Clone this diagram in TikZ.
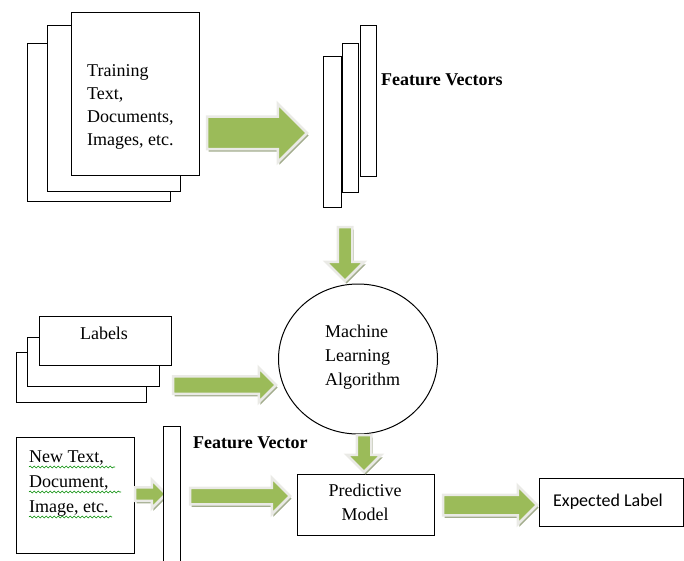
\documentclass[tikz,border=0pt]{standalone}
\usepackage{fontspec}
\setmainfont{Liberation Serif}
\newfontfamily\calibri{Carlito}
\usetikzlibrary{shapes.arrows, shapes.geometric, shadows, decorations.pathmorphing, positioning}
\definecolor{arrowgreen}{HTML}{9BBB59}
\definecolor{arrowrim}{HTML}{EAEAE6}
\definecolor{arrowshade}{HTML}{A3AD8E}
\tikzset{page/.style={draw,line width=1.1pt,fill=white,anchor=north west,inner sep=0pt},
         garrow/.style={single arrow,anchor=tail,fill=arrowgreen,draw=arrowrim,line width=2.5pt,inner xsep=0pt,outer sep=0pt,
                        drop shadow={shadow xshift=1.5pt,shadow yshift=-2.5pt,fill=arrowshade,opacity=1}},
         txt/.style={font=\fontsize{18}{23}\selectfont,align=left,inner sep=0pt},
         squiggle/.style={draw=green!55!black,line width=0.6pt,decorate,decoration={snake,amplitude=1pt,segment length=4pt}}}

\begin{document}
\begin{tikzpicture}[x=1pt,y=-1pt]
        \useasboundingbox (0,0) rectangle (684,561);

        % training documents
        \node[page,minimum width=143pt,minimum height=158pt](train3)at(27,43){};
        \node[page,minimum width=133pt,minimum height=166pt](train2)at(47,25){};
        \node[page,minimum width=128pt,minimum height=163pt](train1)at(71,12){};
        \node[txt,anchor=west](traintext)at(87,107){Training\\Text,\\Documents,\\Images, etc.};

        % feature vectors
        \node[page,minimum width=16pt,minimum height=151pt](vec3)at(360,25){};
        \node[page,minimum width=16pt,minimum height=149pt](vec2)at(342,43){};
        \node[page,minimum width=18pt,minimum height=151pt](vec1)at(323,56){};
        \node[txt,font=\fontsize{18}{23}\selectfont\bfseries,anchor=west](vectext)at(381,80){Feature Vectors};

        % labels
        \node[page,minimum width=130pt,minimum height=50pt](lab3)at(16,352){};
        \node[page,minimum width=132pt,minimum height=49pt](lab2)at(27,337){};
        \node[page,minimum width=132pt,minimum height=49pt](lab1)at(39,316){};
        \node[txt](labtext)at(104,333){Labels};

        % algorithm
        \node[draw,ellipse,line width=1pt,minimum width=159pt,minimum height=150pt,inner sep=0pt](mla)at(358,359){};
        \node[txt,font=\fontsize{18}{24}\selectfont,anchor=west](mlatext)at(325,357){Machine\\Learning\\Algorithm};

        % new input
        \node[page,minimum width=118pt,minimum height=116pt](new)at(16,437){};
        \node[txt,font=\fontsize{18}{25}\selectfont,anchor=west](newtext)at(29,484){New Text,\\Document,\\Image, etc.};
        \draw[squiggle](29,467)--(115,467);
        \draw[squiggle](29,492)--(121,492);
        \draw[squiggle](29,517)--(112,517);
        \node[garrow,inner ysep=5.5pt,minimum height=31pt,minimum width=26pt,single arrow head extend=7.5pt](asmall)at(135,494){};
        \node[page,minimum width=17pt,minimum height=144pt](vec)at(163,426){};
        \node[txt,font=\fontsize{18}{23}\selectfont\bfseries,anchor=west](vecname)at(193,443){Feature Vector};

        % model and output
        \node[page,minimum width=137pt,minimum height=61pt](model)at(297,474){};
        \node[txt,font=\fontsize{18}{24}\selectfont,align=center](modeltext)at(365,502){Predictive\\Model};
        \node[page,minimum width=144pt,minimum height=48pt](out)at(539,478){};
        \node[txt,font=\calibri\fontsize{18}{23}\selectfont,anchor=west](outtext)at(553,502){Expected Label};

        % block arrows
        \node[garrow,inner ysep=15pt,minimum height=100pt,minimum width=56pt,single arrow head extend=13pt](a1)at(207,133){};
        \node[garrow,rotate=-90,inner ysep=6pt,minimum height=54pt,minimum width=36pt,single arrow head extend=12pt](a2)at(345,227){};
        \node[garrow,inner ysep=7.5pt,minimum height=103pt,minimum width=32pt,single arrow head extend=8.5pt](a3)at(173,385){};
        \node[garrow,inner ysep=7pt,minimum height=100pt,minimum width=34pt,single arrow head extend=10pt](a4)at(190,496){};
        \node[garrow,rotate=-90,inner ysep=6pt,minimum height=37pt,minimum width=32pt,single arrow head extend=10pt](a5)at(364,435){};
        \node[garrow,inner ysep=9pt,minimum height=94pt,minimum width=36pt,single arrow head extend=9pt](a6)at(443,505){};
    \end{tikzpicture}
\end{document}
